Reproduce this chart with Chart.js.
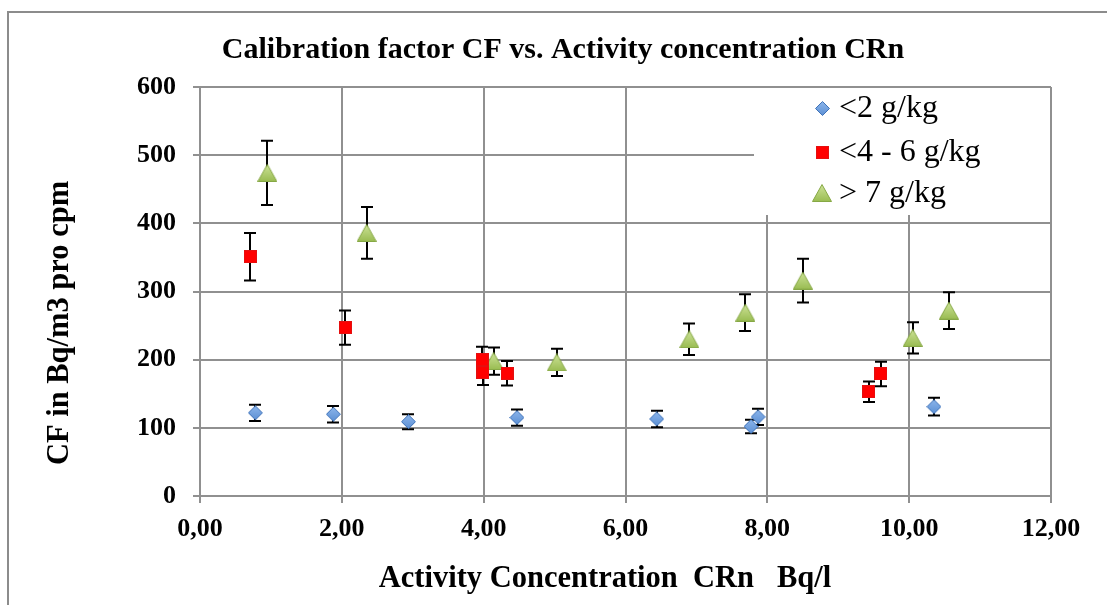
<!DOCTYPE html>
<html><head><meta charset="utf-8">
<script src="https://cdn.jsdelivr.net/npm/chart.js@4/dist/chart.umd.min.js"></script>
<style>
html,body{margin:0;padding:0;background:#fff;}
#wrap{position:relative;width:1107px;height:605px;overflow:hidden;background:#fff;}
#frame{position:absolute;left:7px;top:11px;width:1130px;height:640px;border:2px solid #8c8c8c;box-sizing:border-box;}
canvas#c{position:absolute;left:0;top:0;}
</style></head><body>
<div id="wrap"><div id="frame"></div><canvas id="c" width="1107" height="605"></canvas></div>
<script>
const chartTitle = 'Calibration factor CF vs. Activity concentration CRn';
const xTitle = 'Activity Concentration  CRn   Bq/l';
const yTitle = 'CF in Bq/m3 pro cpm';
const seriesNames = ['<2 g/kg', '<4 - 6 g/kg', '> 7 g/kg'];

const blueX = [0.78, 1.88, 2.94, 4.47, 6.44, 7.77, 7.87, 10.35];
const blueY = [122, 120, 109, 115, 113, 102, 116, 131];
const blueErr = [12, 12, 11, 12, 12, 10, 12, 13];

const redX = [0.71, 2.05, 3.98, 3.99, 4.33, 9.43, 9.60];
const redY = [351, 247, 200, 181, 180, 153, 179];
const redErr = [35, 25, 19, 18, 18, 15, 18];

const greenX = [0.95, 2.35, 4.14, 5.03, 6.90, 7.69, 8.50, 10.05, 10.56];
const greenY = [474, 386, 198, 196, 230, 269, 316, 232, 272];
const greenErr = [47, 38, 20, 20, 23, 27, 32, 23, 27];

const xTicks = [0, 2, 4, 6, 8, 10, 12];
const yTicks = [0, 100, 200, 300, 400, 500, 600];

const errs = [blueErr, redErr, greenErr];
const GRID = '#909090';

function pts(xs, ys) { return xs.map((x, i) => ({x: x, y: ys[i]})); }

function makeIcon(style) {
  const c = document.createElement('canvas');
  const ctx = c.getContext('2d');
  if (style === 'triangle') {
    c.width = 20; c.height = 18;
    const g = ctx.createLinearGradient(0, 0, 0, 18);
    g.addColorStop(0, '#cfe49a'); g.addColorStop(1, '#98bb50');
    ctx.fillStyle = g; ctx.strokeStyle = '#86a845'; ctx.lineWidth = 1;
    ctx.beginPath(); ctx.moveTo(10, 0.5); ctx.lineTo(19.5, 17.5); ctx.lineTo(0.5, 17.5); ctx.closePath();
    ctx.fill(); ctx.stroke();
  } else if (style === 'diamond') {
    c.width = 15; c.height = 15;
    const g = ctx.createLinearGradient(0, 0, 0, 15);
    g.addColorStop(0, '#8db6ec'); g.addColorStop(1, '#5b8fd3');
    ctx.fillStyle = g; ctx.strokeStyle = '#3f72b8'; ctx.lineWidth = 1;
    ctx.beginPath(); ctx.moveTo(7.5, 0.5); ctx.lineTo(14.5, 7.5); ctx.lineTo(7.5, 14.5); ctx.lineTo(0.5, 7.5); ctx.closePath();
    ctx.fill(); ctx.stroke();
  } else {
    c.width = 13; c.height = 13;
    ctx.fillStyle = '#ff0000'; ctx.strokeStyle = '#e41010'; ctx.lineWidth = 1;
    ctx.fillRect(0, 0, 13, 13); ctx.strokeRect(0.5, 0.5, 12, 12);
  }
  return c;
}
const icons = [makeIcon('diamond'), makeIcon('square'), makeIcon('triangle')];

const errorBars = {
  id: 'errorBars',
  beforeDatasetsDraw(chart) {
    const ctx = chart.ctx, xs = chart.scales.x, ys = chart.scales.y;
    ctx.save();
    ctx.strokeStyle = '#000'; ctx.lineWidth = 2;
    chart.data.datasets.forEach((ds, di) => {
      ds.data.forEach((p, i) => {
        const e = errs[di][i];
        const px = Math.round(xs.getPixelForValue(p.x));
        const t = ys.getPixelForValue(p.y + e);
        const b = ys.getPixelForValue(p.y - e);
        ctx.beginPath();
        ctx.moveTo(px, t); ctx.lineTo(px, b);
        ctx.moveTo(px - 6, t); ctx.lineTo(px + 6, t);
        ctx.moveTo(px - 6, b); ctx.lineTo(px + 6, b);
        ctx.stroke();
      });
    });
    ctx.restore();
  }
};

const legendBox = {
  id: 'legendBox',
  afterDatasetsDraw(chart) {
    const ctx = chart.ctx;
    ctx.save();
    ctx.fillStyle = '#fff';
    ctx.fillRect(754, 88, 296, 127);
    const rows = [108, 152, 193];
    chart.data.datasets.forEach((ds, i) => {
      const ic = ds.pointStyle;
      ctx.drawImage(ic, Math.round(822 - ic.width / 2), Math.round(rows[i] - ic.height / 2));
      ctx.fillStyle = '#000';
      ctx.font = '32px "Liberation Serif"';
      ctx.textBaseline = 'middle';
      ctx.textAlign = 'left';
      ctx.fillText(ds.label, 839, rows[i] + 1);
    });
    ctx.restore();
  }
};

const texts = {
  id: 'texts',
  afterDraw(chart) {
    const ctx = chart.ctx;
    ctx.save();
    ctx.fillStyle = '#000';
    ctx.textAlign = 'center';
    ctx.textBaseline = 'middle';
    ctx.font = 'bold 30px "Liberation Serif"';
    ctx.fillText(chartTitle, 563, 50);
    ctx.font = 'bold 30.5px "Liberation Serif"';
    ctx.fillText(xTitle, 605, 579);
    ctx.translate(60, 323);
    ctx.rotate(-Math.PI / 2);
    ctx.font = 'bold 30.5px "Liberation Serif"';
    ctx.fillText(yTitle, 0, 0);
    ctx.restore();
  }
};

const tickFont = {family: 'Liberation Serif', weight: 'bold', size: 26};

new Chart(document.getElementById('c'), {
  type: 'scatter',
  data: {
    datasets: [
      {label: seriesNames[0], data: pts(blueX, blueY), pointStyle: icons[0], pointRadius: 7,
       backgroundColor: '#6f9fdc', borderColor: '#3f72b8', borderWidth: 1},
      {label: seriesNames[1], data: pts(redX, redY), pointStyle: icons[1], pointRadius: 7,
       backgroundColor: '#ff0000', borderColor: '#e00000', borderWidth: 1},
      {label: seriesNames[2], data: pts(greenX, greenY), pointStyle: icons[2], pointRadius: 10,
       backgroundColor: '#a8c866', borderColor: '#86a845', borderWidth: 1}
    ]
  },
  options: {
    responsive: false,
    animation: false,
    events: [],
    layout: {padding: {top: 87, right: 56, left: 0, bottom: 0}},
    plugins: {legend: {display: false}, title: {display: false}, tooltip: {enabled: false}},
    scales: {
      x: {
        type: 'linear', min: 0, max: 12,
        afterBuildTicks: s => { s.ticks = xTicks.map(v => ({value: v})); },
        afterFit: s => { s.height = 109; },
        ticks: {font: tickFont, color: '#000', padding: 11,
                callback: v => v.toFixed(2).replace('.', ',')},
        grid: {color: GRID, lineWidth: 2, tickLength: 7},
        border: {color: GRID, width: 2}
      },
      y: {
        min: 0, max: 600,
        afterBuildTicks: s => { s.ticks = yTicks.map(v => ({value: v})); },
        afterFit: s => { s.width = 200; },
        ticks: {font: tickFont, color: '#000', padding: 17},
        grid: {color: GRID, lineWidth: 2, tickLength: 7},
        border: {color: GRID, width: 2}
      }
    }
  },
  plugins: [errorBars, legendBox, texts]
});
</script>
</body></html>
